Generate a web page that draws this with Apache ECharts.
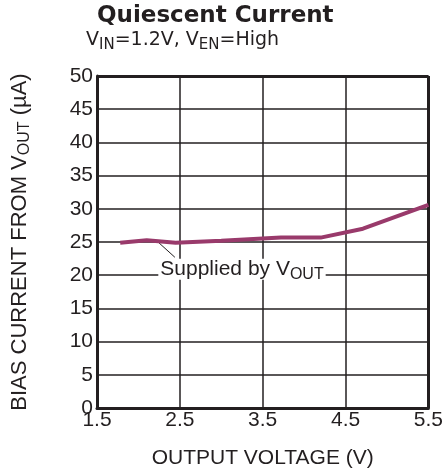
<!DOCTYPE html>
<html>
<head>
<meta charset="utf-8">
<script src="https://cdn.jsdelivr.net/npm/echarts@6/dist/echarts.min.js"></script>
<style>
html,body{margin:0;padding:0;background:#fff;}
#chart{width:446px;height:474px;}
</style>
</head>
<body>
<div id="chart"></div>
<script>
var voltage = [1.78, 2.1, 2.45, 3.0, 3.72, 4.2, 4.71, 5.5];
var biasCurrent = [24.9, 25.26, 24.9, 25.2, 25.66, 25.66, 27.0, 30.6];
var xTicks = [1.5, 2.5, 3.5, 4.5, 5.5];
var yTicks = [0, 5, 10, 15, 20, 25, 30, 35, 40, 45, 50];
var annotationText = 'Supplied by V{sub|OUT}';
var annotationAt = [3.25, 20.9];
var leaderFrom = [2.21, 25.3];
var leaderTo = [2.44, 22.7];

var FONT = 'Liberation Sans, Arial, sans-serif';
var WIDE = 'DejaVu Sans, sans-serif';
var INK = '#231f20';
var chart = echarts.init(document.getElementById('chart'));
var data = voltage.map(function (v, i) { return [v, biasCurrent[i]]; });
var subStyle = function (family, size, pad) {
  return { fontFamily: family, fontSize: size, color: INK, verticalAlign: 'top', padding: [pad, 0, 0, 0], lineHeight: size, backgroundColor: 'transparent' };
};

chart.setOption({
  animation: false,
  backgroundColor: '#fff',
  title: [{
    text: 'Quiescent Current',
    left: 97, top: 5, padding: 0,
    textStyle: { fontFamily: WIDE, fontSize: 23, fontWeight: 'bold', color: INK }
  }, {
    text: 'V{sub|IN}=1.2V, V{sub|EN}=High',
    left: 86, top: 31, padding: 0,
    textStyle: {
      fontFamily: WIDE, fontSize: 19, fontWeight: 'normal', color: INK,
      rich: { sub: subStyle(WIDE, 15, 7) }
    }
  }],
  grid: { left: 97, right: 13, top: 76, bottom: 61 },
  xAxis: {
    type: 'value', min: 1.5, max: 5.5, interval: 1,
    name: 'OUTPUT VOLTAGE (V)', nameLocation: 'middle', nameGap: 40,
    nameTextStyle: { fontFamily: FONT, fontSize: 21, color: INK },
    axisLine: { show: true, lineStyle: { color: INK, width: 3 } },
    axisTick: { show: false },
    axisLabel: { fontFamily: FONT, fontSize: 21, color: INK, margin: 2,
      formatter: function (v) { return v.toFixed(1); } },
    splitLine: { show: true, lineStyle: { color: INK, width: 1.5 } }
  },
  yAxis: {
    type: 'value', min: 0, max: 50, interval: 5,
    name: 'BIAS CURRENT FROM V{sub|OUT} (µA)', nameLocation: 'middle', nameGap: 66, nameRotate: 90,
    nameTextStyle: { fontFamily: FONT, fontSize: 22, color: INK,
      rich: { sub: subStyle(FONT, 16, 8) } },
    axisLine: { show: true, lineStyle: { color: INK, width: 3 } },
    axisTick: { show: false },
    axisLabel: { fontFamily: FONT, fontSize: 21, color: INK, margin: 4 },
    splitLine: { show: true, lineStyle: { color: INK, width: 1.5 } }
  },
  series: [{
    type: 'line',
    data: data,
    symbol: 'none',
    lineStyle: { color: '#993a6b', width: 4 },
    z: 5,
    markLine: {
      silent: true, symbol: 'none', animation: false,
      lineStyle: { color: INK, width: 1, type: 'solid' },
      label: { show: false },
      data: [[{ coord: leaderFrom }, { coord: leaderTo }]]
    },
    markPoint: {
      silent: true, symbol: 'rect', symbolSize: 0,
      data: [{ coord: annotationAt, value: 0 }],
      label: {
        show: true, position: 'inside',
        formatter: annotationText,
        fontFamily: FONT, fontSize: 21, color: INK,
        backgroundColor: '#fff', padding: [0, 2, 0, 2],
        rich: { sub: subStyle(FONT, 16, 8) }
      }
    }
  }, {
    type: 'line', data: [],
    markLine: {
      silent: true, symbol: 'none',
      lineStyle: { color: INK, width: 3, type: 'solid' },
      label: { show: false },
      data: [{ xAxis: 5.5 }, { yAxis: 50 }]
    }
  }]
});
</script>
</body>
</html>
